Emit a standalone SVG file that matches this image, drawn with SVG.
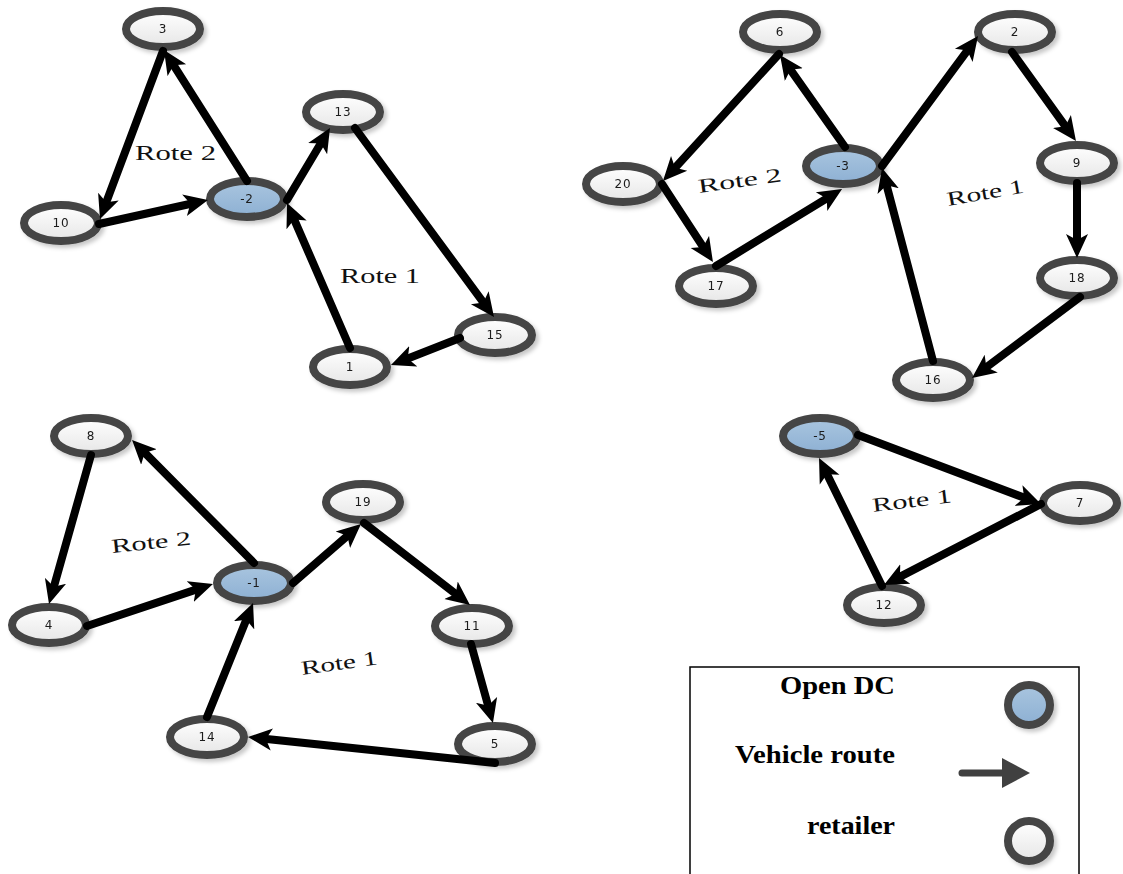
<svg xmlns="http://www.w3.org/2000/svg" width="1123" height="874" viewBox="0 0 1123 874">
  <style>
    .node ellipse { stroke: #444; stroke-width: 8; }
    .retailer ellipse { fill: url(#gRetail); }
    .dc ellipse { fill: url(#gDC); }
    .node text { font-family: "DejaVu Sans", Verdana, sans-serif; font-size: 12px; fill: #1a1a1a; text-anchor: middle; dominant-baseline: central; letter-spacing: 0.8px; }
    .edge { stroke: #000; stroke-width: 8; stroke-linecap: round; fill: none; marker-end: url(#arrow); }
    .route { font-family: "Liberation Serif", "Times New Roman", serif; font-size: 20px; fill: #111; }
    .legend-text { font-family: "Liberation Serif", "Times New Roman", serif; font-weight: bold; font-size: 25px; fill: #000; text-anchor: end; }
  </style>
  <defs>
    <linearGradient id="gRetail" x1="0" y1="0" x2="0" y2="1">
      <stop offset="0" stop-color="#ffffff"/>
      <stop offset="1" stop-color="#e6e6e6"/>
    </linearGradient>
    <linearGradient id="gDC" x1="0" y1="0" x2="0" y2="1">
      <stop offset="0" stop-color="#a9c5df"/>
      <stop offset="1" stop-color="#8db0d3"/>
    </linearGradient>
    <filter id="shadow" x="-30%" y="-40%" width="160%" height="190%">
      <feDropShadow dx="3" dy="3" stdDeviation="2" flood-color="#000" flood-opacity="0.22"/>
    </filter>
    <marker id="arrow" markerUnits="userSpaceOnUse" markerWidth="24" markerHeight="24" viewBox="0 0 24 24" refX="10" refY="12" orient="auto">
      <path d="M0,1 L24,12 L0,23 L6,12 z" fill="#000"/>
    </marker>
    <marker id="legendArrow" markerUnits="userSpaceOnUse" markerWidth="28" markerHeight="30" viewBox="0 0 28 30" refX="4" refY="15" orient="auto">
      <path d="M0,0 L28,15 L0,30 z" fill="#404040"/>
    </marker>
  </defs>

  <!-- nodes -->
  <g id="nodes" filter="url(#shadow)">
    <g id="n3" class="node retailer"><ellipse cx="163" cy="29" rx="37" ry="18"/><text x="163" y="29">3</text></g>
    <g id="n10" class="node retailer"><ellipse cx="61" cy="223" rx="37" ry="18"/><text x="61" y="223">10</text></g>
    <g id="nm2" class="node dc"><ellipse cx="247" cy="199" rx="37" ry="18"/><text x="247" y="199">-2</text></g>
    <g id="n13" class="node retailer"><ellipse cx="343" cy="112" rx="37" ry="18"/><text x="343" y="112">13</text></g>
    <g id="n15" class="node retailer"><ellipse cx="495" cy="335" rx="37" ry="18"/><text x="495" y="335">15</text></g>
    <g id="n1" class="node retailer"><ellipse cx="350" cy="367" rx="37" ry="18"/><text x="350" y="367">1</text></g>

    <g id="n6" class="node retailer"><ellipse cx="780" cy="32" rx="37" ry="18"/><text x="780" y="32">6</text></g>
    <g id="n2" class="node retailer"><ellipse cx="1015" cy="32" rx="37" ry="18"/><text x="1015" y="32">2</text></g>
    <g id="n20" class="node retailer"><ellipse cx="623" cy="184" rx="37" ry="18"/><text x="623" y="184">20</text></g>
    <g id="nm3" class="node dc"><ellipse cx="843" cy="166" rx="37" ry="18"/><text x="843" y="166">-3</text></g>
    <g id="n9" class="node retailer"><ellipse cx="1077" cy="163" rx="37" ry="18"/><text x="1077" y="163">9</text></g>
    <g id="n17" class="node retailer"><ellipse cx="716" cy="286" rx="37" ry="18"/><text x="716" y="286">17</text></g>
    <g id="n18" class="node retailer"><ellipse cx="1077" cy="278" rx="37" ry="18"/><text x="1077" y="278">18</text></g>
    <g id="n16" class="node retailer"><ellipse cx="933" cy="380" rx="37" ry="18"/><text x="933" y="380">16</text></g>

    <g id="n8" class="node retailer"><ellipse cx="91" cy="436" rx="37" ry="18"/><text x="91" y="436">8</text></g>
    <g id="n19" class="node retailer"><ellipse cx="363" cy="502" rx="37" ry="18"/><text x="363" y="502">19</text></g>
    <g id="nm1" class="node dc"><ellipse cx="254" cy="583" rx="37" ry="18"/><text x="254" y="583">-1</text></g>
    <g id="n4" class="node retailer"><ellipse cx="49" cy="625" rx="37" ry="18"/><text x="49" y="625">4</text></g>
    <g id="n11" class="node retailer"><ellipse cx="472" cy="626" rx="37" ry="18"/><text x="472" y="626">11</text></g>
    <g id="n14" class="node retailer"><ellipse cx="207" cy="737" rx="37" ry="18"/><text x="207" y="737">14</text></g>
    <g id="n5" class="node retailer"><ellipse cx="495" cy="744" rx="37" ry="18"/><text x="495" y="744">5</text></g>

    <g id="nm5" class="node dc"><ellipse cx="820" cy="436" rx="37" ry="18"/><text x="820" y="436">-5</text></g>
    <g id="n7" class="node retailer"><ellipse cx="1080" cy="503" rx="37" ry="18"/><text x="1080" y="503">7</text></g>
    <g id="n12" class="node retailer"><ellipse cx="884" cy="605" rx="37" ry="18"/><text x="884" y="605">12</text></g>
  </g>

  <!-- vehicle routes -->
  <g id="connectors">
    <line class="edge" x1="247" y1="181" x2="171.5" y2="61.8"/>
    <line class="edge" x1="163" y1="51" x2="104.9" y2="205.9"/>
    <line class="edge" x1="99" y1="224" x2="194.3" y2="203"/>
    <line class="edge" x1="287" y1="200" x2="322.8" y2="140"/>
    <line class="edge" x1="355" y1="128" x2="485.7" y2="305.7"/>
    <line class="edge" x1="460" y1="338" x2="404" y2="359.9"/>
    <line class="edge" x1="350" y1="348" x2="292.6" y2="215.8"/>

    <line class="edge" x1="845" y1="147" x2="788.1" y2="66.4"/>
    <line class="edge" x1="779" y1="54" x2="672.4" y2="170.7"/>
    <line class="edge" x1="662" y1="184" x2="705.3" y2="250.3"/>
    <line class="edge" x1="716" y1="266" x2="830.1" y2="196.3"/>
    <line class="edge" x1="882" y1="166" x2="969.7" y2="47.3"/>
    <line class="edge" x1="1012" y1="52" x2="1067.8" y2="129.6"/>
    <line class="edge" x1="1077" y1="183" x2="1077" y2="244"/>
    <line class="edge" x1="1080" y1="297" x2="983.2" y2="369.6"/>
    <line class="edge" x1="933" y1="361" x2="885.6" y2="181.5"/>

    <line class="edge" x1="254" y1="563" x2="141.9" y2="449.9"/>
    <line class="edge" x1="91" y1="455" x2="52.8" y2="590.5"/>
    <line class="edge" x1="87" y1="626" x2="199.7" y2="588.4"/>
    <line class="edge" x1="293" y1="583" x2="350.4" y2="533.2"/>
    <line class="edge" x1="364" y1="523" x2="458.9" y2="596.4"/>
    <line class="edge" x1="471" y1="644" x2="489.2" y2="709.5"/>
    <line class="edge" x1="495" y1="763" x2="261.9" y2="738.5"/>
    <line class="edge" x1="207" y1="717" x2="247.8" y2="616"/>

    <line class="edge" x1="858" y1="435" x2="1027.9" y2="499.1"/>
    <line class="edge" x1="1041" y1="504" x2="896.4" y2="578.6"/>
    <line class="edge" x1="882" y1="586" x2="825.2" y2="470.6"/>
  </g>

  <!-- route labels -->
  <g id="route-labels">
    <text class="route" x="135" y="160" textLength="81" lengthAdjust="spacingAndGlyphs">Rote 2</text>
    <text class="route" x="340" y="283" textLength="80" lengthAdjust="spacingAndGlyphs">Rote 1</text>
    <text class="route" x="699" y="193" textLength="84" lengthAdjust="spacingAndGlyphs" transform="rotate(-8 699 193)">Rote 2</text>
    <text class="route" x="948" y="206" textLength="78" lengthAdjust="spacingAndGlyphs" transform="rotate(-10 948 206)">Rote 1</text>
    <text class="route" x="112" y="553" textLength="80" lengthAdjust="spacingAndGlyphs" transform="rotate(-6 112 553)">Rote 2</text>
    <text class="route" x="302" y="675" textLength="77" lengthAdjust="spacingAndGlyphs" transform="rotate(-8 302 675)">Rote 1</text>
    <text class="route" x="873" y="512" textLength="80" lengthAdjust="spacingAndGlyphs" transform="rotate(-7 873 512)">Rote 1</text>
  </g>

  <!-- legend -->
  <g id="legend">
    <rect x="690" y="667" width="389" height="215" fill="#fff" stroke="#000" stroke-width="1.5"/>
    <text class="legend-text" x="895" y="694" textLength="115" lengthAdjust="spacingAndGlyphs">Open DC</text>
    <text class="legend-text" x="895" y="763" textLength="160" lengthAdjust="spacingAndGlyphs">Vehicle route</text>
    <text class="legend-text" x="895" y="834" textLength="88" lengthAdjust="spacingAndGlyphs">retailer</text>
    <g filter="url(#shadow)">
      <ellipse cx="1029" cy="705" rx="21" ry="20" fill="url(#gDC)" stroke="#444" stroke-width="8"/>
      <ellipse cx="1029" cy="841" rx="21" ry="20" fill="url(#gRetail)" stroke="#444" stroke-width="8"/>
    </g>
    <line x1="962" y1="773" x2="1006" y2="773" stroke="#404040" stroke-width="7" stroke-linecap="round" marker-end="url(#legendArrow)"/>
  </g>
</svg>
